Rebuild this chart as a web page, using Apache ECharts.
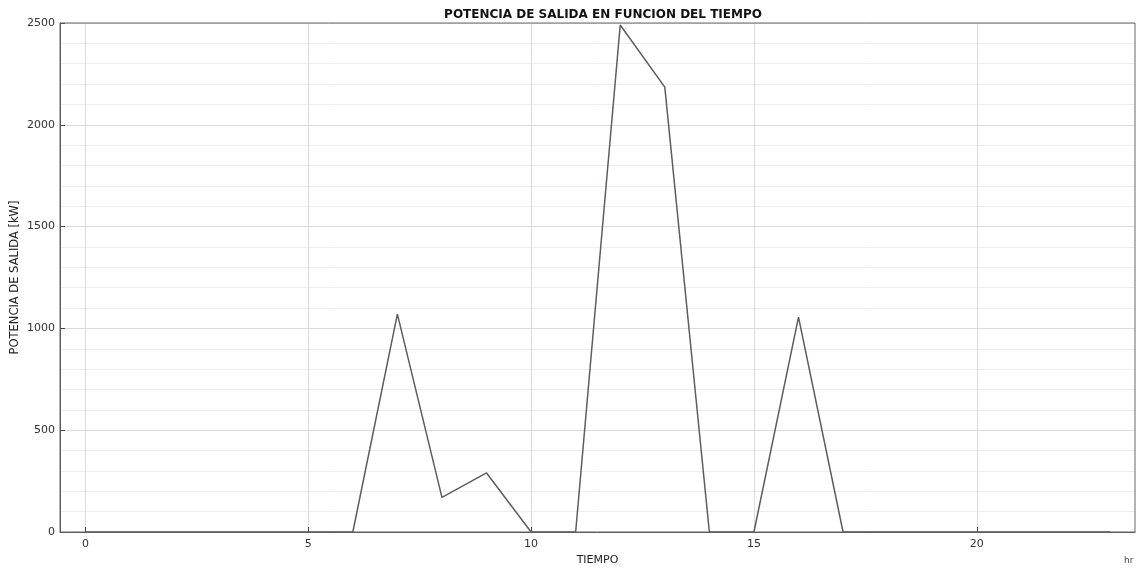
<!DOCTYPE html>
<html>
<head>
<meta charset="utf-8">
<script src="https://cdn.jsdelivr.net/npm/echarts@6/dist/echarts.min.js"></script>
<style>
  html, body { margin: 0; padding: 0; background: #fff; }
  #chart { width: 1144px; height: 574px; }
</style>
</head>
<body>
<div id="chart"></div>
<script>
// horas del dia
const hours = [0, 1, 2, 3, 4, 5, 6, 7, 8, 9, 10, 11, 12, 13, 14, 15, 16, 17, 18, 19, 20, 21, 22, 23]
// potencia de salida [kW]
const power = [0, 0, 0, 0, 0, 0, 0, 1070, 170, 290, 0, 0, 2490, 2185, 0, 0, 1055, 0, 0, 0, 0, 0, 0, 0]
const xTicks = [0, 5, 10, 15, 20]

const chart = echarts.init(document.getElementById('chart'))
const font = 'DejaVu Sans, sans-serif'

const option = {
  animation: false,
  title: {
    text: 'POTENCIA DE SALIDA EN FUNCION DEL TIEMPO',
    left: 598,
    textAlign: 'center',
    top: 4,
    textStyle: { fontFamily: font, fontSize: 12, fontWeight: 'bold', color: '#111' }
  },
  grid: { left: 60, right: 9, top: 23, bottom: 42, outerBoundsMode: 'none' },
  xAxis: {
    type: 'value',
    min: -0.57,
    max: 23.55,
    name: 'TIEMPO',
    nameLocation: 'middle',
    nameGap: 23,
    nameMoveOverlap: false,
    nameTextStyle: { fontFamily: font, fontSize: 11, color: '#222' },
    axisLine: { onZero: false, lineStyle: { color: '#555', width: 1 } },
    axisTick: { inside: true, length: 5, customValues: xTicks, lineStyle: { color: '#444' } },
    axisLabel: { customValues: xTicks, fontFamily: font, fontSize: 11, color: '#333', margin: 7 },
    splitLine: { show: true, lineStyle: { color: '#dcdcdc', width: 1 } }
  },
  yAxis: {
    type: 'value',
    min: 0,
    max: 2500,
    interval: 500,
    name: 'POTENCIA DE SALIDA [kW]',
    nameLocation: 'middle',
    nameGap: 39,
    nameMoveOverlap: false,
    nameTextStyle: { fontFamily: font, fontSize: 11.5, color: '#222' },
    axisLine: { show: true, onZero: false, lineStyle: { color: '#555', width: 1 } },
    axisTick: { show: true, inside: true, length: 5, lineStyle: { color: '#444' } },
    axisLabel: { fontFamily: font, fontSize: 11, color: '#333', margin: 5, formatter: v => String(v) },
    splitLine: { show: true, lineStyle: { color: '#dcdcdc', width: 1 } },
    minorTick: { show: false, splitNumber: 5 },
    minorSplitLine: { show: true, lineStyle: { color: '#eeeeee', width: 1 } }
  },
  graphic: [
    {
      type: 'rect',
      shape: { x: 60, y: 23, width: 1075, height: 509 },
      style: { fill: 'none', stroke: '#666', lineWidth: 1 },
      silent: true,
      z: 10
    },
    {
      type: 'text',
      left: 1124,
      top: 556,
      style: { text: 'hr', font: '9px ' + font, fill: '#444' }
    }
  ],
  series: [
    {
      type: 'line',
      data: hours.map((h, i) => [h, power[i]]),
      symbol: 'none',
      lineStyle: { color: '#5a5f5a', width: 1.5 },
      z: 5
    }
  ]
}

chart.setOption(option)
</script>
</body>
</html>
